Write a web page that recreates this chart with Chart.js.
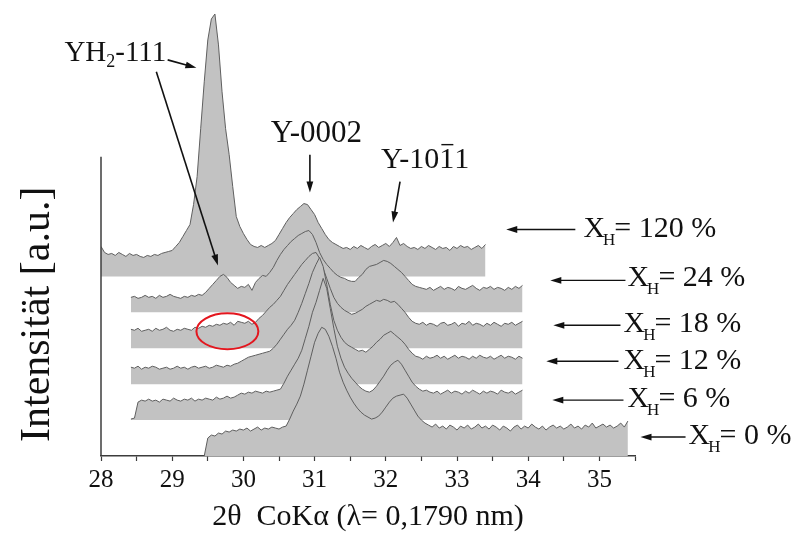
<!DOCTYPE html>
<html>
<head>
<meta charset="utf-8">
<script src="https://cdn.jsdelivr.net/npm/chart.js@4.4.1/dist/chart.umd.min.js"></script>
<style>
  html, body { margin: 0; padding: 0; background: #fff; }
  #wrap { width: 803px; height: 535px; position: relative; }
</style>
</head>
<body>
<div id="wrap"><canvas id="xrdChart"></canvas></div>
<script>
// Hydrogen content of each scan, bottom to top of the waterfall
const hydrogen = ['0 %', '6 %', '12 %', '18 %', '24 %', '120 %'];
// Vertical shift of each scan (a.u.)
const offsets = [0, 36, 72, 108, 144, 180];
// First 2θ of each scan, all scans use the same step
const scanStart = [29.45, 28.42, 28.42, 28.42, 28.42, 28.00];
const scanStep = 0.05;

// Intensities above each scan's own offset (a.u.)
const scan0 = [
  0, 18, 21, 20, 23, 22, 25, 24, 26, 25, 27, 26, 28, 25, 27, 29, 26, 28, 27, 29,
  28, 27, 29, 30, 37, 45, 52, 60, 72, 86, 100, 114, 123, 129, 127, 120, 110, 98, 84, 74,
  66, 59, 53, 48, 44, 41, 39, 37, 38, 40, 44, 49, 54, 58, 60, 61, 62, 58, 52, 46,
  40, 36, 33, 31, 29, 32, 28, 30, 27, 31, 29, 26, 30, 28, 31, 27, 29, 32, 28, 30,
  27, 31, 29, 26, 30, 28, 25, 29, 31, 27, 30, 28, 32, 29, 27, 30, 26, 29, 31, 28,
  30, 27, 29, 32, 28, 30, 27, 31, 29, 33, 28, 30, 32, 29, 31, 28, 30, 33, 29, 35
];
const scan6 = [
  1, 2, 18, 20, 19, 21, 19, 20, 18, 21, 20, 19, 22, 20, 19, 21, 20, 22, 19, 21,
  20, 22, 21, 20, 23, 21, 22, 24, 22, 23, 25, 27, 26, 28, 27, 29, 28, 27, 29, 28,
  29, 30, 31, 37, 44, 50, 56, 62, 70, 82, 94, 108, 118, 130, 142, 132, 112, 92, 74, 62,
  53, 47, 42, 38, 34, 31, 29, 28, 30, 34, 39, 44, 50, 55, 58, 60, 56, 50, 44, 38,
  34, 31, 29, 30, 28, 27, 29, 26, 28, 30, 27, 29, 28, 26, 29, 27, 30, 28, 26, 29,
  27, 29, 28, 26, 30, 28, 27, 29, 26, 28, 30
];
const scan12 = [
  17, 16, 18, 15, 17, 16, 18, 17, 15, 16, 17, 15, 16, 18, 16, 17, 15, 17, 18, 16,
  17, 18, 16, 17, 19, 18, 17, 19, 18, 20, 21, 23, 25, 27, 28, 29, 30, 31, 32, 33,
  36, 40, 45, 50, 55, 59, 64, 72, 81, 91, 101, 112, 120, 127, 118, 100, 80, 64, 54, 47,
  42, 39, 37, 35, 33, 34, 32, 35, 38, 42, 45, 49, 51, 53, 50, 47, 44, 40, 35, 31,
  28, 27, 25, 28, 26, 27, 29, 26, 28, 25, 27, 29, 26, 28, 27, 25, 28, 26, 29, 27,
  26, 28, 25, 27, 29, 26, 28, 27, 25, 28, 26
];
const scan18 = [
  19, 18, 20, 17, 18, 19, 17, 20, 18, 19, 21, 18, 17, 19, 18, 20, 19, 18, 21, 20,
  22, 21, 23, 22, 24, 23, 25, 24, 26, 23, 27, 26, 25, 27, 24, 26, 30, 33, 37, 41,
  44, 48, 52, 58, 64, 69, 74, 79, 84, 88, 92, 95, 96, 90, 80, 70, 60, 51, 45, 41,
  38, 36, 34, 35, 37, 39, 42, 44, 46, 48, 47, 49, 48, 46, 47, 44, 40, 36, 31, 27,
  25, 24, 26, 23, 25, 24, 22, 25, 26, 23, 24, 26, 22, 25, 24, 27, 23, 25, 24, 22,
  25, 23, 26, 24, 22, 25, 24, 26, 23, 25, 27
];
const scan24 = [
  15, 16, 14, 15, 17, 15, 16, 14, 17, 15, 16, 18, 16, 15, 14, 16, 15, 17, 16, 18,
  17, 20, 24, 28, 32, 36, 38, 35, 30, 27, 24, 26, 25, 28, 22, 30, 34, 37, 36, 40,
  45, 52, 58, 63, 67, 71, 74, 77, 79, 81, 82, 78, 70, 60, 53, 48, 44, 40, 37, 35,
  34, 32, 31, 31, 35, 38, 43, 46, 47, 48, 50, 52, 51, 49, 46, 43, 40, 36, 32, 28,
  26, 25, 24, 23, 25, 22, 24, 26, 23, 25, 24, 22, 26, 24, 23, 25, 27, 24, 22, 25,
  24, 26, 23, 25, 24, 22, 25, 23, 26, 24, 27
];
const scan120 = [
  30, 24, 22, 23, 21, 24, 22, 20, 23, 21, 22, 20, 19, 21, 20, 22, 21, 23, 24, 25,
  26, 30, 34, 40, 46, 52, 72, 100, 148, 195, 237, 258, 263, 232, 185, 148, 122, 90, 60, 50,
  43, 37, 32, 30, 29, 31, 29, 31, 33, 36, 42, 48, 54, 59, 63, 67, 70, 73, 72, 67,
  62, 54, 48, 42, 37, 34, 32, 30, 28, 29, 27, 30, 28, 31, 29, 27, 30, 32, 29, 31,
  33, 30, 34, 39, 31, 33, 30, 28, 29, 27, 30, 28, 31, 29, 27, 30, 28, 29, 26, 30,
  28, 31, 29, 30, 27, 29, 31, 28, 32
];
const scans = [scan0, scan6, scan12, scan18, scan24, scan120];

// Axis ticks
const xMin = 28, xMax = 35.5, xTickStep = 0.5;

const SERIF = "'Liberation Serif', 'Times New Roman', serif";
const INK = '#111';

// Build point lists: each scan sits on its own offset
const datasets = scans.map((vals, s) => ({
  label: 'X_H = ' + hydrogen[s],
  data: vals.map((v, i) => ({ x: scanStart[s] + i * scanStep, y: v + offsets[s] })),
  borderColor: '#5f5f5f',
  borderWidth: 1,
  backgroundColor: '#c2c2c2',
  fill: { value: offsets[s] },
  pointRadius: 0,
  tension: 0
}));

function arrow(ctx, x1, y1, x2, y2) {
  const a = Math.atan2(y2 - y1, x2 - x1);
  const len = 11, half = 3.4;
  ctx.beginPath();
  ctx.moveTo(x1, y1);
  ctx.lineTo(x2 - Math.cos(a) * len * 0.7, y2 - Math.sin(a) * len * 0.7);
  ctx.stroke();
  ctx.beginPath();
  ctx.moveTo(x2, y2);
  ctx.lineTo(x2 - len * Math.cos(a) + half * Math.sin(a), y2 - len * Math.sin(a) - half * Math.cos(a));
  ctx.lineTo(x2 - len * Math.cos(a) - half * Math.sin(a), y2 - len * Math.sin(a) + half * Math.cos(a));
  ctx.closePath();
  ctx.fill();
}

// Draw text pieces one after another (for sub-scripts)
function richText(ctx, parts, x, y) {
  for (const p of parts) {
    ctx.font = p.size + 'px ' + SERIF;
    x += p.dx || 0;
    ctx.fillText(p.t, x, y + (p.dy || 0));
    x += ctx.measureText(p.t).width;
  }
  return x;
}

// Peak labels, scan labels, y axis line and title
const annotate = {
  id: 'annotate',
  afterDraw(chart) {
    const { ctx, chartArea, scales: { x, y } } = chart;
    const px = v => x.getPixelForValue(v);
    const py = v => y.getPixelForValue(v);
    ctx.save();

    // left axis only covers the lower part
    ctx.strokeStyle = '#3c3c3c';
    ctx.lineWidth = 1.5;
    ctx.beginPath();
    ctx.moveTo(chartArea.left, py(300));
    ctx.lineTo(chartArea.left, chartArea.bottom);
    ctx.stroke();

    // y title
    ctx.fillStyle = INK;
    ctx.font = '42px ' + SERIF;
    ctx.textAlign = 'center';
    ctx.textBaseline = 'middle';
    ctx.translate(chartArea.left - 63, py(142));
    ctx.rotate(-Math.PI / 2);
    ctx.fillText('Intensität [a.u.]', 0, 0);
    ctx.setTransform(1, 0, 0, 1, 0, 0);

    ctx.textAlign = 'left';
    ctx.textBaseline = 'alphabetic';
    ctx.strokeStyle = '#111';
    ctx.fillStyle = INK;
    ctx.lineWidth = 1.6;

    // hydride reflection
    richText(ctx, [{ t: 'YH', size: 29 }, { t: '2', size: 18, dy: 6 }, { t: '-111', size: 29 }], px(27.486), py(396));
    arrow(ctx, px(28.936), py(397), px(29.34), py(389));
    arrow(ctx, px(28.777), py(385), px(29.643), py(191));

    // yttrium reflections
    richText(ctx, [{ t: 'Y-0002', size: 31 }], px(30.385), py(315));
    arrow(ctx, px(30.934), py(302), px(30.934), py(264));

    const bx = richText(ctx, [{ t: 'Y-10', size: 30 }], px(31.933), py(289));
    ctx.font = '30px ' + SERIF;
    const w1 = ctx.measureText('1').width;
    ctx.fillText('1', bx, py(289));
    ctx.lineWidth = 1.4;
    ctx.beginPath();
    ctx.moveTo(bx + 2, py(289) - 23);
    ctx.lineTo(bx + w1 - 1, py(289) - 23);
    ctx.stroke();
    ctx.fillText('1', bx + w1, py(289));
    ctx.lineWidth = 1.6;
    arrow(ctx, px(32.2), py(275), px(32.101), py(234));

    // scan labels: [text x, baseline, arrow start x, arrow end x, arrow y]
    const tags = [
      [36.252, 12, 36.21, 35.577, 19],
      [35.394, 49, 35.338, 34.339, 56],
      [35.338, 87, 35.268, 34.254, 95],
      [35.338, 124, 35.296, 34.353, 131],
      [35.394, 170, 35.366, 34.311, 176],
      [34.775, 219, 34.662, 33.692, 227]
    ];
    tags.forEach((t, s) => {
      ctx.lineWidth = 1.4;
      arrow(ctx, px(t[2]), py(t[4]), px(t[3]), py(t[4]));
      richText(ctx, [
        { t: 'X', size: 30 },
        { t: 'H', size: 17, dy: 8, dx: -2 },
        { t: '= ' + hydrogen[s], size: 30, dx: -1 }
      ], px(t[0]), py(t[1]));
    });

    // marked region on the 18 % scan
    ctx.strokeStyle = '#e3161e';
    ctx.lineWidth = 2;
    ctx.beginPath();
    ctx.ellipse(px(29.775), py(125), px(29.775 + 0.435) - px(29.775), 18, 0, 0, Math.PI * 2);
    ctx.stroke();

    ctx.restore();
  }
};

new Chart(document.getElementById('xrdChart'), {
  type: 'line',
  data: { datasets },
  options: {
    responsive: true,
    maintainAspectRatio: false,
    animation: false,
    devicePixelRatio: 1,
    layout: { padding: { left: 101, right: 168, top: 7, bottom: 0 } },
    plugins: { legend: { display: false }, tooltip: { enabled: false } },
    scales: {
      x: {
        type: 'linear',
        min: xMin,
        max: xMax,
        border: { display: true, color: '#3c3c3c', width: 1.5 },
        grid: { drawOnChartArea: false, drawTicks: true, tickLength: 5, color: '#3c3c3c', tickWidth: 1.2 },
        ticks: {
          stepSize: xTickStep,
          autoSkip: false,
          maxRotation: 0,
          padding: 4,
          color: INK,
          font: { family: SERIF, size: 25 },
          callback: v => Number.isInteger(v) ? String(v) : ''
        },
        title: {
          display: true,
          text: '2θ  CoKα (λ= 0,1790 nm)',
          color: INK,
          font: { family: SERIF, size: 30 },
          padding: { top: 0, bottom: 0 }
        }
      },
      y: { display: false, min: 0, max: 450 }
    }
  },
  plugins: [annotate]
});
</script>
</body>
</html>
